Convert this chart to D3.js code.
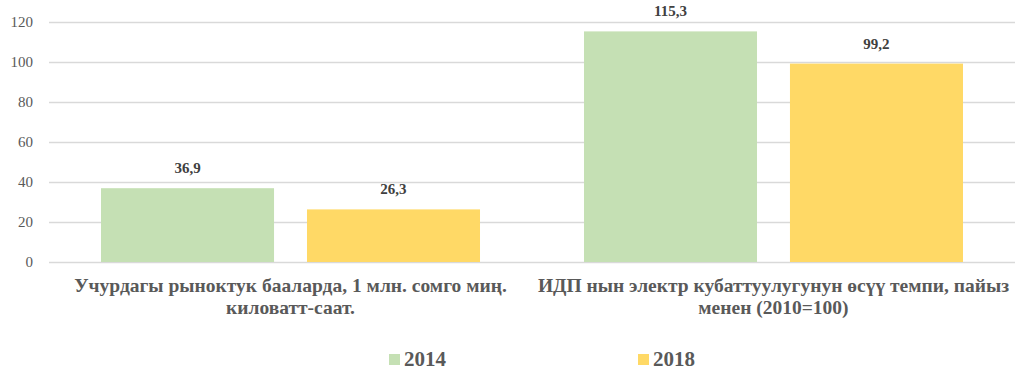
<!DOCTYPE html>
<html>
<head>
<meta charset="utf-8">
<script src="https://cdn.jsdelivr.net/npm/d3@7"></script>
<style>
  body { margin: 0; background: #fff; }
  svg text { font-family: "Liberation Serif", "DejaVu Serif", serif !important; }
</style>
</head>
<body>
<script>
// chart data
var categories = ["Учурдагы рыноктук бааларда, 1 млн. сомго миң. киловатт-саат.",
                  "ИДП нын электр кубаттуулугунун өсүү темпи, пайыз менен (2010=100)"];
var seriesNames = ["2014", "2018"];
var values2014 = [36.9, 115.3];
var values2018 = [26.3, 99.2];
var yTicks = [0, 20, 40, 60, 80, 100, 120];

window.onload = drawChart();

function drawChart(){
    var width = 1030,
        height = 374;
    var colors = ["#C5E0B4", "#FFD966"];
    var seriesValues = [values2014, values2018];
    var serif = "'Liberation Serif', 'DejaVu Serif', serif";

    var svg = d3.select("body")
        .append("svg")
        .attr("width", width)
        .attr("height", height)
        .attr("font-family", serif);

    var x0 = d3.scaleBand()
        .domain(categories)
        .range([49, 1015])
        .paddingInner(0.2153)
        .paddingOuter(0.1077);

    var x1 = d3.scaleBand()
        .domain(seriesNames)
        .range([0, x0.bandwidth()])
        .paddingInner(0.16);

    var y = d3.scaleLinear()
        .domain([0, 120])
        .range([262, 22]);

    //gridlines
    svg.append("g")
        .selectAll("line")
        .data(yTicks)
        .enter()
        .append("line")
        .attr("x1", 49)
        .attr("x2", 1015)
        .attr("y1", function(d){ return Math.round(y(d)) + 0.5; })
        .attr("y2", function(d){ return Math.round(y(d)) + 0.5; })
        .attr("stroke", "#d9d9d9")
        .attr("stroke-width", 1.5);

    //y axis labels
    var yAxis = svg.append("g")
        .attr("transform", "translate(42,0)")
        .call(d3.axisLeft(y).tickValues(yTicks).tickSize(0).tickPadding(9));
    yAxis.attr("font-family", serif);
    yAxis.select(".domain").remove();
    yAxis.selectAll("text")
        .attr("fill", "#595959")
        .style("font-family", serif)
        .style("font-size", "15px");

    //bars
    var groups = svg.selectAll(".group")
        .data(categories)
        .enter()
        .append("g")
        .attr("class", "group")
        .attr("transform", function(d){ return "translate(" + x0(d) + ",0)"; });

    groups.selectAll("rect")
        .data(function(d, i){
            return seriesNames.map(function(s, j){ return {series: s, value: seriesValues[j][i], idx: j}; });
        })
        .enter()
        .append("rect")
        .attr("x", function(d){ return x1(d.series); })
        .attr("width", x1.bandwidth())
        .attr("y", function(d){ return y(d.value); })
        .attr("height", function(d){ return y(0) - y(d.value); })
        .attr("fill", function(d){ return colors[d.idx]; });

    groups.selectAll(".lbl")
        .data(function(d, i){
            return seriesNames.map(function(s, j){ return {series: s, value: seriesValues[j][i]}; });
        })
        .enter()
        .append("text")
        .attr("class", "lbl")
        .attr("x", function(d){ return x1(d.series) + x1.bandwidth() / 2; })
        .attr("y", function(d){ return y(d.value) - 15; })
        .attr("text-anchor", "middle")
        .attr("fill", "#404040")
        .style("font-family", serif)
        .style("font-size", "15px")
        .style("font-weight", "bold")
        .text(function(d){ return d3.format(".1f")(d.value).replace(".", ","); });

    //category labels
    svg.selectAll(".cat")
        .data(categories)
        .enter()
        .append("text")
        .attr("class", "cat")
        .attr("x", function(d){ return x0(d) + x0.bandwidth() / 2; })
        .attr("y", 292)
        .attr("text-anchor", "middle")
        .attr("fill", "#595959")
        .style("font-family", serif)
        .style("font-size", "19.5px")
        .style("font-weight", "bold")
        .text(function(d){ return d; })
        .call(wrap, x0.step() - 3);

    //legend
    var legend = svg.selectAll(".legend")
        .data(seriesNames)
        .enter()
        .append("g")
        .attr("class", "legend")
        .attr("transform", function(d, i){ return "translate(" + (389 + i * 249) + ",354)"; });
    legend.append("rect")
        .attr("width", 11)
        .attr("height", 11)
        .attr("fill", function(d, i){ return colors[i]; });
    legend.append("text")
        .attr("x", 15)
        .attr("y", 12)
        .attr("fill", "#595959")
        .style("font-family", serif)
        .style("font-size", "21px")
        .style("font-weight", "bold")
        .text(function(d){ return d; });
};

//wrap long category names into lines
function wrap(sel, w){
    sel.each(function(){
        var text = d3.select(this),
            words = text.text().split(/\s+/),
            x = text.attr("x"),
            yy = text.attr("y"),
            line = [],
            lineNo = 0,
            tspan = text.text(null).append("tspan").attr("x", x).attr("y", yy);
        words.forEach(function(word){
            line.push(word);
            tspan.text(line.join(" "));
            if (tspan.node().getComputedTextLength() > w && line.length > 1){
                line.pop();
                tspan.text(line.join(" "));
                line = [word];
                lineNo++;
                tspan = text.append("tspan").attr("x", x).attr("y", +yy + lineNo * 22).text(word);
            }
        });
    });
}
</script>
</body>
</html>
